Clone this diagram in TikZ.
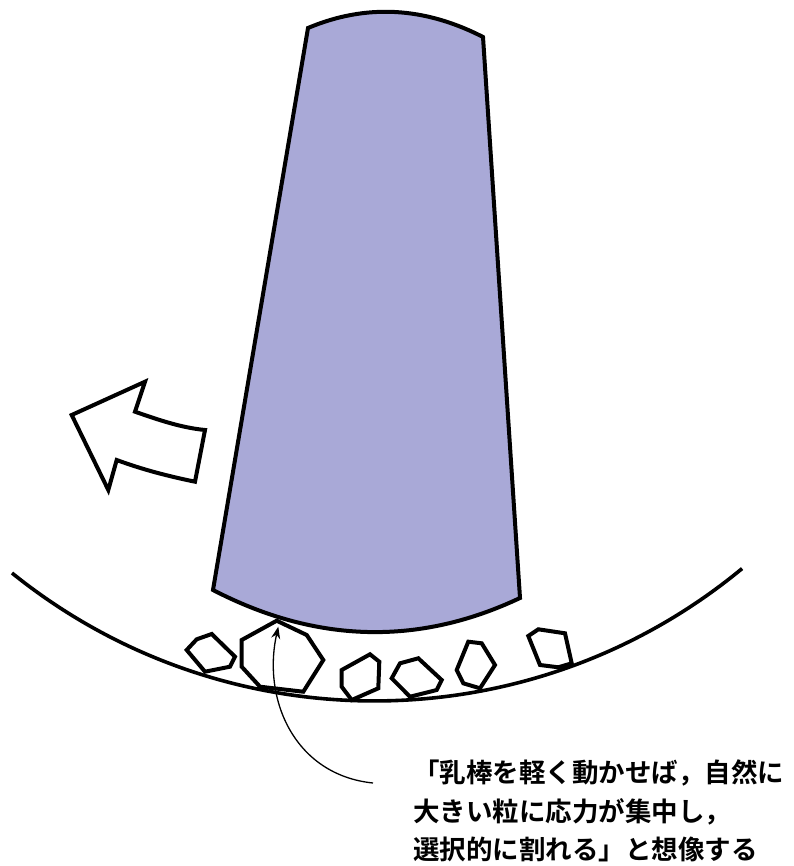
\documentclass[tikz,border=0pt]{standalone}
\usepackage{fontspec}
\newfontfamily\cjk{Noto Sans CJK JP}[BoldFont=* Bold]
\usetikzlibrary{arrows.meta}
\definecolor{pestlefill}{RGB}{169,169,215}
\tikzset{
  outline/.style={draw=black, line width=4pt, line join=miter},
  grain/.style={draw=black, fill=white, line width=4pt, line join=miter},
  bowlline/.style={draw=black, line width=3.6pt},
  callout/.style={draw=black, line width=1.3pt, -{Stealth[length=12pt,width=9pt]}},
  note/.style={anchor=base west, inner sep=0pt, font=\cjk\bfseries\fontsize{26.5}{39}\selectfont}
}
\begin{document}
\begin{tikzpicture}[x=1pt,y=-1pt]
\useasboundingbox (0,0) rectangle (793,866);

% bowl
\draw[bowlline] (12,573) arc[start angle=128.9, end angle=50.4, radius=577];

% pestle
\draw[outline, fill=pestlefill]
  (308,28) .. controls (365.7,3.7) and (424,6.7) .. (483,37)
  -- (520,598)
  .. controls (418.3,646) and (316,643.3) .. (213,590) -- cycle;

% grains
\draw[grain] (186.7,650) -- (196.7,639.3) -- (211.7,634) -- (235,656.7) -- (230,666.7) -- (205,671.7) -- cycle;
\draw[grain] (241.7,640) -- (276.7,620.7) -- (306.7,635) -- (323.3,660) -- (303.3,691.7) -- (260,686.7) -- (241.7,666.7) -- cycle;
\draw[grain] (341.7,670) -- (370,654.3) -- (379.3,661.7) -- (378.3,688.3) -- (351.7,700) -- (341.7,686.7) -- cycle;
\draw[grain] (391.7,678.3) -- (400,663.3) -- (418.3,658.3) -- (441.7,680) -- (436.7,690) -- (410,696.7) -- cycle;
\draw[grain] (456.7,670) -- (468.3,641.7) -- (481.7,643.3) -- (495,665) -- (480,688.3) -- (463.3,683.3) -- cycle;
\draw[grain] (528.3,636) -- (538.3,629.3) -- (565,633.3) -- (571.7,663.3) -- (558.3,667.3) -- (540,665) -- cycle;

% motion arrow
\draw[outline, fill=white]
  (71.7,415) -- (145,381.7) -- (135,411.7)
  .. controls (157.7,419.6) and (181,427.7) .. (205,430)
  -- (195,481.7)
  .. controls (168.3,476.2) and (142.9,469.7) .. (116.7,460)
  -- (108.3,490) -- cycle;

% explanatory text
\node[note] (t1) at (413,782) {「乳棒を軽く動かせば，自然に};
\node[note] (t2) at (413,821) {大きい粒に応力が集中し，};
\node[note] (t3) at (413,859) {選択的に割れる」と想像する};

% callout pointing at the large grain
\coordinate (cstart) at (373,783);
\coordinate (ctip) at (278.3,626.7);
\draw[callout] (cstart) .. controls (295,775) and (262,700) .. (ctip);
\end{tikzpicture}
\end{document}
